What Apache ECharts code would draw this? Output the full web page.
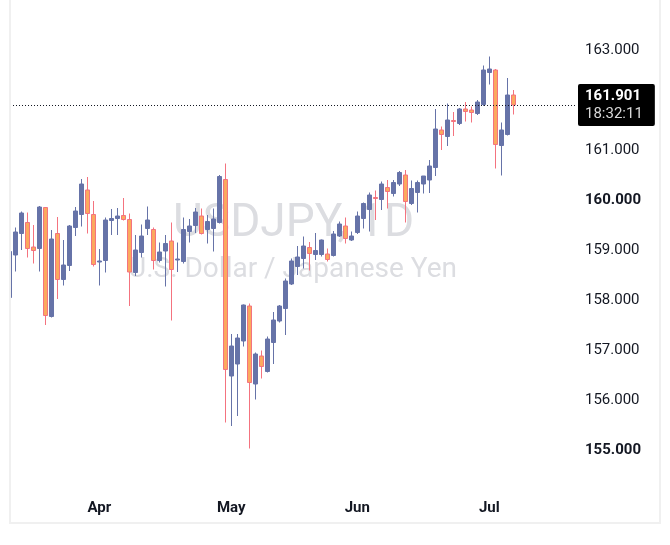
<!DOCTYPE html>
<html>
<head>
<meta charset="UTF-8">
<title>USDJPY, 1D</title>
<script src="https://cdn.jsdelivr.net/npm/echarts@6/dist/echarts.min.js"></script>
<style>
  html, body { margin: 0; padding: 0; background: #fff; }
  #main { width: 670px; height: 545px; }
</style>
</head>
<body>
<div id="main"></div>
<script type="text/javascript">
// daily candles, oldest first (index 0 is cut by the left edge)
var opens  = [158.05,158.90,159.33,159.55,159.06,159.03,159.85,157.67,159.33,158.41,158.69,159.45,159.71,160.20,159.71,158.76,158.79,159.59,159.63,159.69,
              159.61,158.55,158.95,159.43,159.41,158.79,158.98,159.18,158.80,158.77,159.37,159.49,159.68,159.41,159.43,159.55,160.41,156.48,156.72,157.18,
              157.88,156.32,156.88,156.57,157.15,157.58,157.83,158.32,158.67,158.83,159.05,158.91,158.91,158.92,158.89,159.28,159.48,159.20,159.35,159.63,
              159.81,160.05,160.01,160.25,160.13,160.32,160.50,159.93,160.15,160.32,160.40,160.65,161.40,161.27,161.59,161.53,161.82,161.80,161.73,161.91,
              162.55,162.60,161.09,161.31,162.10]
var closes = [158.97,159.36,159.74,159.03,158.99,159.86,157.69,159.22,158.41,158.70,159.48,159.78,160.32,159.73,158.71,158.78,159.60,159.63,159.68,159.61,
              158.56,159.00,159.28,159.60,158.79,158.96,159.13,158.61,158.82,159.41,159.48,159.76,159.33,159.57,159.62,160.47,156.61,157.08,157.24,157.90,
              156.35,156.92,156.67,157.22,157.60,157.88,158.38,158.78,158.86,159.08,158.93,158.99,159.20,158.81,159.32,159.52,159.23,159.28,159.68,159.93,
              160.10,160.03,160.32,160.17,160.35,160.55,159.97,160.23,160.35,160.48,160.68,161.42,161.31,161.60,161.57,161.82,161.77,161.75,161.96,162.60,
              162.62,161.11,161.40,162.10,161.901]
var lows   = [158.00,158.57,159.00,158.85,158.73,158.57,157.50,157.65,158.02,158.29,158.58,159.28,159.47,159.33,158.67,158.29,158.55,159.30,159.30,159.59,
              157.88,158.48,158.85,159.30,158.61,158.75,158.27,157.59,158.56,158.73,159.15,159.34,159.31,159.13,158.97,159.53,155.55,155.48,155.68,157.07,
              155.03,156.01,156.43,156.55,156.72,157.55,157.30,158.30,158.50,158.63,158.59,158.80,158.87,158.77,158.87,159.26,159.13,159.18,159.32,159.43,
              159.37,159.60,159.80,159.83,160.07,160.28,159.55,159.90,159.75,160.13,160.14,160.48,161.00,161.08,161.28,161.50,161.57,161.55,161.70,161.88,
              162.31,160.63,160.49,161.29,161.71]
var highs  = [159.00,159.45,159.77,159.75,159.50,159.88,159.86,159.40,159.66,159.20,159.50,159.86,160.42,160.46,159.98,159.02,159.65,159.82,159.84,160.04,
              159.73,159.30,159.51,159.87,159.45,159.15,159.30,159.55,159.15,159.65,159.62,159.84,159.83,159.70,159.83,160.50,160.73,157.32,157.32,157.91,
              157.93,156.95,156.99,157.27,157.76,157.90,158.43,158.83,159.08,159.27,159.16,159.34,159.21,159.03,159.38,159.57,159.65,159.37,159.77,159.95,
              160.15,160.19,160.37,160.40,160.40,160.58,160.60,160.39,160.39,160.48,160.80,161.82,161.47,161.93,161.76,161.84,161.96,161.87,162.00,162.69,
              162.87,162.62,161.55,162.44,162.20]

// time scale labels (candle index where the month starts)
var monthIdx   = [15, 37, 58, 80]
var monthNames = ['Apr', 'May', 'Jun', 'Jul']

// price scale labels (162 is hidden under the last price box)
var priceTicks = [155, 156, 157, 158, 159, 160, 161, 163]
var boldTicks  = [155, 160]

var lastTime = '18:32:11'

var candles = []
for (let i = 0; i < opens.length; i++) {
    candles.push([i, opens[i], closes[i], lows[i], highs[i]])
}
var lastClose = closes[closes.length - 1]

var myChart = echarts.init(document.getElementById('main'))

var option = {
    backgroundColor: '#ffffff',
    animation: false,
    textStyle: { fontFamily: 'Roboto' },
    grid: { left: 10, right: 93, top: 0, bottom: 45 },
    graphic: [
        // white strip left of the pane, so the first candle looks cut off
        {
            type: 'rect', z: 20, silent: true,
            shape: { x: -2, y: -10, width: 12, height: 560 },
            style: { fill: '#ffffff' }
        },
        {
            type: 'rect', z: 21, silent: true,
            shape: { x: 10, y: -10, width: 650, height: 533 },
            style: { fill: 'none', stroke: '#f0f0f0', lineWidth: 2 }
        },
        // watermark behind the candles
        {
            type: 'text', z: -5, silent: true,
            left: 173, top: 201,
            style: { text: 'USDJPY, 1D', fill: '#dcdde1', font: '46px Roboto' }
        },
        {
            type: 'text', z: -5, silent: true,
            left: 128, top: 256,
            style: { text: 'U.S. Dollar / Japanese Yen', fill: '#dcdde1', font: '28px Roboto' }
        }
    ],
    xAxis: {
        type: 'value',
        min: 0.12,
        max: 94.62,
        axisLine: { show: false },
        axisTick: { show: false },
        splitLine: { show: false },
        axisLabel: {
            customValues: monthIdx,
            margin: 1,
            color: '#131722',
            fontSize: 15,
            fontWeight: 'bold',
            formatter: function (v) {
                let k = monthIdx.indexOf(Math.round(v))
                return k >= 0 ? monthNames[k] : ''
            }
        }
    },
    yAxis: {
        type: 'value',
        position: 'right',
        min: 154,
        max: 164,
        axisLine: { show: false },
        axisTick: { show: false },
        splitLine: { show: false },
        axisLabel: {
            customValues: priceTicks,
            margin: 8,
            color: '#131722',
            fontSize: 15,
            formatter: function (v) {
                let s = v.toFixed(3)
                return boldTicks.indexOf(v) >= 0 ? '{b|' + s + '}' : s
            },
            rich: { b: { fontWeight: 'bold', fontSize: 15, color: '#131722' } }
        }
    },
    series: [
        {
            type: 'candlestick',
            data: candles,
            barWidth: 4,
            clip: true,
            itemStyle: {
                color: '#6673a8',
                color0: '#fba95e',
                borderColor: '#6673a8',
                borderColor0: '#f4737f',
                borderWidth: 1
            },
            // last price line + box on the price scale
            markLine: {
                silent: true,
                precision: 3,
                symbol: ['none', 'none'],
                lineStyle: { color: '#131722', type: [1, 2], width: 1 },
                label: {
                    show: true,
                    position: 'end',
                    distance: 1,
                    backgroundColor: '#000000',
                    borderRadius: 2,
                    padding: [3, 12, 3, 7],
                    formatter: function () {
                        return '{p|' + lastClose.toFixed(3) + '}\n{t|' + lastTime + '}'
                    },
                    rich: {
                        p: { color: '#ffffff', fontWeight: 'bold', fontSize: 15, lineHeight: 18 },
                        t: { color: '#d8d8d8', fontSize: 15, lineHeight: 18 }
                    }
                },
                data: [{ yAxis: lastClose }]
            }
        }
    ]
}

myChart.setOption(option)
</script>
</body>
</html>
